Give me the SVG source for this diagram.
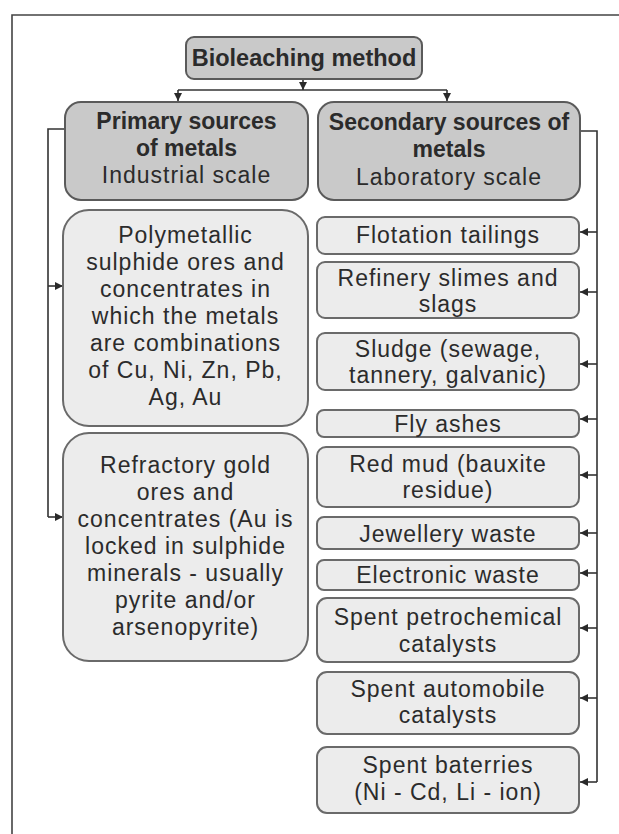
<svg xmlns="http://www.w3.org/2000/svg" width="619" height="834" viewBox="0 0 619 834">
<defs>
<marker id="ah" viewBox="0 0 10 10" refX="10" refY="5" markerWidth="8" markerHeight="8" markerUnits="userSpaceOnUse" orient="auto">
<path d="M0,0 L10,5 L0,10 z" fill="#2a2a2a"/>
</marker>
</defs>
<style>
text{font-family:"Liberation Sans",Arial,sans-serif;font-size:23px;letter-spacing:1px;fill:#2b2b2b;text-anchor:middle}
.b{font-weight:bold;letter-spacing:0}
.hd{fill:#c9c9c9;stroke:#5a5a5a;stroke-width:2}
.it{fill:#ececec;stroke:#6a6a6a;stroke-width:2}
.cn{fill:none;stroke:#333;stroke-width:1.6}
</style>
<rect width="619" height="834" fill="#fff"/>
<path d="M12,834 L12,15 L619,15" fill="none" stroke="#444" stroke-width="1.6"/>

<g id="connectors">
<path class="cn" d="M303,79 L303,90" marker-end="url(#ah)"/>
<path class="cn" d="M178,90 L447,90"/>
<path class="cn" d="M178,90 L178,101" marker-end="url(#ah)"/>
<path class="cn" d="M447,90 L447,101" marker-end="url(#ah)"/>
<path class="cn" d="M65,129 L48,129 L48,517"/>
<path class="cn" d="M48,286 L63,286" marker-end="url(#ah)"/>
<path class="cn" d="M48,517 L63,517" marker-end="url(#ah)"/>
<path class="cn" d="M580,131 L597,131 L597,782"/>
<path class="cn" d="M597,232 L580,232" marker-end="url(#ah)"/>
<path class="cn" d="M597,292 L580,292" marker-end="url(#ah)"/>
<path class="cn" d="M597,364 L580,364" marker-end="url(#ah)"/>
<path class="cn" d="M597,419 L580,419" marker-end="url(#ah)"/>
<path class="cn" d="M597,475 L580,475" marker-end="url(#ah)"/>
<path class="cn" d="M597,533 L580,533" marker-end="url(#ah)"/>
<path class="cn" d="M597,573 L580,573" marker-end="url(#ah)"/>
<path class="cn" d="M597,628 L580,628" marker-end="url(#ah)"/>
<path class="cn" d="M597,698 L580,698" marker-end="url(#ah)"/>
<path class="cn" d="M597,782 L580,782" marker-end="url(#ah)"/>
</g>

<g id="bioleaching">
<rect class="hd" x="186" y="37" width="236" height="42" rx="8"/>
<text class="b" x="304" y="66" style="font-size:23.5px">Bioleaching method</text>
</g>

<g id="primary">
<rect class="hd" x="65" y="102" width="243" height="98" rx="16"/>
<text class="b" x="186.5" y="129">Primary sources</text>
<text class="b" x="186.5" y="156">of metals</text>
<text x="186.5" y="183">Industrial scale</text>
</g>

<g id="secondary">
<rect class="hd" x="318" y="102" width="262" height="98" rx="16"/>
<text class="b" x="449" y="130">Secondary sources of</text>
<text class="b" x="449" y="157">metals</text>
<text x="449" y="185">Laboratory scale</text>
</g>

<g id="polymetallic">
<rect class="it" x="63" y="210" width="245" height="216" rx="26"/>
<text x="185.5" y="243">Polymetallic</text>
<text x="185.5" y="270">sulphide ores and</text>
<text x="185.5" y="297">concentrates in</text>
<text x="185.5" y="324">which the metals</text>
<text x="185.5" y="351">are combinations</text>
<text x="185.5" y="378">of Cu, Ni, Zn, Pb,</text>
<text x="185.5" y="405">Ag, Au</text>
</g>

<g id="refractory">
<rect class="it" x="63" y="433" width="245" height="228" rx="26"/>
<text x="185.5" y="473">Refractory gold</text>
<text x="185.5" y="500">ores and</text>
<text x="185.5" y="527">concentrates (Au is</text>
<text x="185.5" y="554">locked in sulphide</text>
<text x="185.5" y="581">minerals - usually</text>
<text x="185.5" y="608">pyrite and/or</text>
<text x="185.5" y="635">arsenopyrite)</text>
</g>

<g id="flotation">
<rect class="it" x="317" y="217" width="262" height="37" rx="8"/>
<text x="448" y="243">Flotation tailings</text>
</g>
<g id="refinery">
<rect class="it" x="317" y="262" width="262" height="56" rx="8"/>
<text x="448" y="286">Refinery slimes and</text>
<text x="448" y="312">slags</text>
</g>
<g id="sludge">
<rect class="it" x="317" y="333" width="262" height="57" rx="8"/>
<text x="448" y="357">Sludge (sewage,</text>
<text x="448" y="383">tannery, galvanic)</text>
</g>
<g id="flyashes">
<rect class="it" x="317" y="410" width="262" height="27" rx="7"/>
<text x="448" y="432">Fly ashes</text>
</g>
<g id="redmud">
<rect class="it" x="317" y="447" width="262" height="60" rx="9"/>
<text x="448" y="472">Red mud (bauxite</text>
<text x="448" y="498">residue)</text>
</g>
<g id="jewellery">
<rect class="it" x="317" y="517" width="262" height="32" rx="7"/>
<text x="448" y="542">Jewellery waste</text>
</g>
<g id="electronic">
<rect class="it" x="317" y="560" width="262" height="30" rx="7"/>
<text x="448" y="583">Electronic waste</text>
</g>
<g id="petrochemical">
<rect class="it" x="317" y="598" width="262" height="64" rx="10"/>
<text x="448" y="625">Spent petrochemical</text>
<text x="448" y="652">catalysts</text>
</g>
<g id="automobile">
<rect class="it" x="317" y="672" width="262" height="62" rx="10"/>
<text x="448" y="697">Spent automobile</text>
<text x="448" y="723">catalysts</text>
</g>
<g id="batteries">
<rect class="it" x="317" y="747" width="262" height="66" rx="10"/>
<text x="448" y="773">Spent baterries</text>
<text x="448" y="800">(Ni - Cd, Li - ion)</text>
</g>
</svg>
